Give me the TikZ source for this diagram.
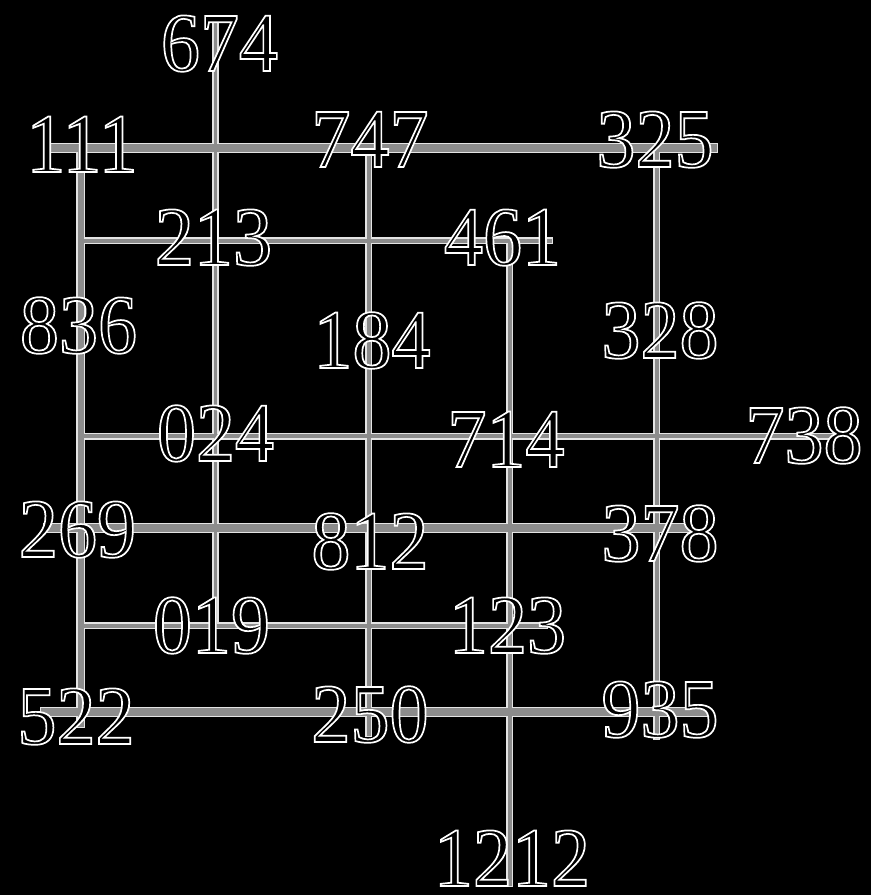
\documentclass[tikz,border=0pt]{standalone}
\usepackage{fontspec}
\newfontfamily\numfont[FakeStretch=0.93]{Liberation Serif}
\definecolor{bargray}{RGB}{140,140,140}
\definecolor{rimwhite}{RGB}{228,228,228}
% outlined digits: black fill, white stroke
\newcommand{\hollow}[1]{\special{pdf:literal direct 1 1 1 RG 1.7 w 2 Tr}#1\special{pdf:literal direct 0 Tr}}
\tikzset{
  num/.style={inner sep=0pt, anchor=base, text=black, font=\numfont\fontsize{84}{84}\selectfont},
  rim/.style={draw=rimwhite, line width=#1},
  core/.style={draw=bargray, line width=#1, shorten <=1.4pt, shorten >=1.4pt}
}
\begin{document}
\begin{tikzpicture}[x=1pt,y=-1pt]
  \useasboundingbox (0,0) rectangle (871,895);
  \fill[black] (0,0) rectangle (871,895);

  % line ends
  \coordinate (w111) at (45,148);    \coordinate (e325) at (718,148);
  \coordinate (w213) at (80.5,240.5); \coordinate (e461) at (553,240.5);
  \coordinate (w024) at (80.5,436);  \coordinate (e738) at (835,436);
  \coordinate (w269) at (43,528);    \coordinate (e378) at (692,528);
  \coordinate (w019) at (80.5,625.5); \coordinate (e123) at (548,625.5);
  \coordinate (w522) at (40,712);    \coordinate (e935) at (710,712);
  \coordinate (t111) at (80.5,148);  \coordinate (b522) at (80.5,728);
  \coordinate (t674) at (215.5,20);  \coordinate (b019) at (215.5,625.5);
  \coordinate (t747) at (368.5,148); \coordinate (b250) at (368.5,737);
  \coordinate (t461) at (509.5,240.5); \coordinate (b1212) at (509.5,887);
  \coordinate (t325) at (656.5,148); \coordinate (b935) at (656.5,740);

  \foreach \a/\b/\w/\c in {w111/e325/10.5/7.5, w213/e461/7/4, w024/e738/7/4,
      w269/e378/10.5/7.5, w019/e123/7/4, w522/e935/10.5/7.5, t111/b522/9/6,
      t674/b019/6.5/3.5, t747/b250/7/4, t461/b1212/7/4, t325/b935/7/4} {
    \draw[rim=\w pt] (\a) -- (\b);}
  \foreach \a/\b/\w/\c in {w111/e325/10.5/7.5, w213/e461/7/4, w024/e738/7/4,
      w269/e378/10.5/7.5, w019/e123/7/4, w522/e935/10.5/7.5, t111/b522/9/6,
      t674/b019/6.5/3.5, t747/b250/7/4, t461/b1212/7/4, t325/b935/7/4} {
    \draw[core=\c pt] (\a) -- (\b);}

  \node[num] (n674) at (219.5,71) {\hollow{674}};
  \node[num] (n111) at (82,172) {\hollow{111}};
  \node[num] (n747) at (370,167) {\hollow{747}};
  \node[num] (n325) at (655,167) {\hollow{325}};
  \node[num] (n213) at (213.5,265) {\hollow{213}};
  \node[num] (n461) at (502.5,265) {\hollow{461}};
  \node[num] (n836) at (78.5,353) {\hollow{836}};
  \node[num] (n184) at (372,368) {\hollow{184}};
  \node[num] (n328) at (660,358) {\hollow{328}};
  \node[num] (n024) at (215.5,461) {\hollow{024}};
  \node[num] (n714) at (506,467) {\hollow{714}};
  \node[num] (n738) at (804,463) {\hollow{738}};
  \node[num] (n269) at (77.5,557) {\hollow{269}};
  \node[num] (n812) at (370,569) {\hollow{812}};
  \node[num] (n378) at (660,561) {\hollow{378}};
  \node[num] (n019) at (211.5,653) {\hollow{019}};
  \node[num] (n123) at (507.5,653) {\hollow{123}};
  \node[num] (n522) at (76,744) {\hollow{522}};
  \node[num] (n250) at (370,742) {\hollow{250}};
  \node[num] (n935) at (660,737) {\hollow{935}};
  \node[num] (n1212) at (512,886) {\hollow{1212}};
\end{tikzpicture}
\end{document}
